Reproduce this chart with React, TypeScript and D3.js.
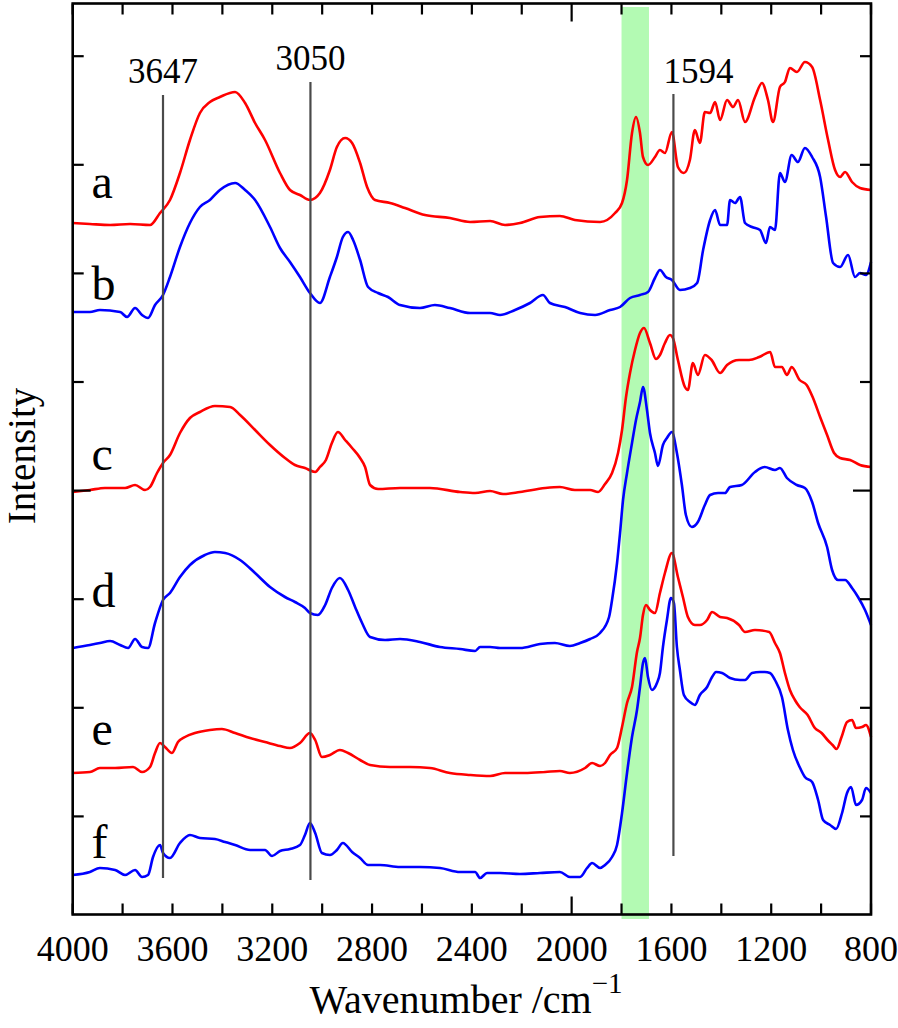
import React from "react";
import * as d3 from "d3";

// Wavenumber (cm^-1) and intensity (arbitrary units; one tick step = 108.6 a.u.)
const curveA: [number, number][] = [
  [4000,702],[3931,701],[3850,700],[3770,701],[3690,700],[3650,712],[3610,725],[3570,752],[3530,785],[3490,812],[3450,823],[3410,828],[3349,833],[3309,822],[3269,802],[3229,785],[3169,752],[3129,735],[3089,730],[3049,725],[3009,732],[2969,755],[2941,778],[2908,787],[2880,782],[2848,762],[2820,738],[2788,725],[2728,722],[2668,717],[2588,710],[2488,707],[2407,703],[2327,704],[2267,700],[2207,702],[2127,708],[2047,709],[1987,705],[1886,703],[1826,712],[1798,722],[1778,745],[1758,792],[1742,808],[1726,792],[1714,768],[1694,760],[1666,768],[1646,775],[1626,772],[1598,793],[1574,758],[1550,752],[1526,765],[1506,795],[1486,782],[1466,813],[1445,812],[1425,823],[1405,805],[1377,825],[1353,818],[1333,825],[1305,803],[1265,828],[1237,842],[1213,825],[1193,803],[1165,838],[1145,843],[1125,857],[1097,853],[1065,863],[1036,858],[1004,825],[972,785],[944,755],[924,748],[904,753],[876,743],[844,737],[800,735]
];
const curveB: [number, number][] = [
  [4000,613],[3931,613],[3891,615],[3810,613],[3782,608],[3750,617],[3722,610],[3698,607],[3670,620],[3638,630],[3610,648],[3570,678],[3530,702],[3490,718],[3450,725],[3410,735],[3349,742],[3309,735],[3269,725],[3209,698],[3169,677],[3129,663],[3089,648],[3049,632],[3009,622],[2969,648],[2941,668],[2917,688],[2896,693],[2876,685],[2848,665],[2816,638],[2776,632],[2736,628],[2688,620],[2608,617],[2548,620],[2488,617],[2407,612],[2327,612],[2287,610],[2227,615],[2167,622],[2115,630],[2087,622],[2027,618],[1966,612],[1906,610],[1846,615],[1806,618],[1766,627],[1726,630],[1694,633],[1666,647],[1646,655],[1622,648],[1598,645],[1566,635],[1526,637],[1497,642],[1473,675],[1445,705],[1425,715],[1405,700],[1377,700],[1365,725],[1345,722],[1325,728],[1305,702],[1277,698],[1245,695],[1221,682],[1205,698],[1185,695],[1165,752],[1145,743],[1118,770],[1093,763],[1065,777],[1036,768],[1004,748],[980,708],[952,662],[924,658],[892,670],[864,648],[844,652],[820,650],[800,663]
];
const curveC: [number, number][] = [
  [4000,433],[3931,435],[3871,437],[3790,437],[3750,440],[3710,435],[3690,438],[3662,452],[3638,462],[3610,470],[3570,492],[3530,507],[3490,513],[3430,519],[3369,518],[3329,510],[3269,495],[3209,480],[3149,467],[3109,460],[3069,457],[3028,453],[3009,458],[2985,465],[2961,482],[2937,493],[2908,485],[2880,477],[2848,467],[2828,458],[2808,440],[2776,436],[2688,437],[2568,437],[2447,433],[2387,432],[2327,434],[2275,431],[2207,433],[2106,437],[2047,438],[1987,435],[1926,435],[1894,433],[1866,441],[1838,452],[1814,472],[1798,495],[1782,528],[1766,552],[1746,575],[1726,592],[1710,597],[1686,582],[1662,566],[1646,570],[1626,582],[1606,590],[1594,587],[1574,565],[1546,538],[1534,535],[1514,562],[1494,550],[1466,570],[1439,565],[1405,552],[1377,560],[1329,565],[1289,565],[1248,568],[1204,573],[1185,558],[1157,558],[1137,550],[1118,558],[1086,545],[1058,540],[1034,528],[1004,508],[976,490],[948,472],[924,467],[884,465],[844,460],[800,458]
];
const curveD: [number, number][] = [
  [4000,277],[3931,280],[3891,282],[3850,284],[3810,280],[3778,277],[3750,286],[3722,278],[3698,277],[3670,302],[3638,325],[3610,332],[3570,348],[3530,360],[3470,370],[3430,373],[3389,372],[3329,365],[3269,352],[3209,338],[3149,328],[3109,323],[3069,317],[3049,312],[3017,310],[2988,320],[2961,337],[2929,347],[2896,335],[2868,318],[2840,302],[2808,288],[2748,285],[2688,286],[2608,283],[2528,278],[2447,276],[2387,274],[2367,278],[2327,278],[2287,277],[2207,277],[2127,281],[2067,282],[2007,279],[1966,282],[1926,286],[1886,292],[1850,308],[1838,325],[1818,362],[1806,392],[1794,425],[1778,452],[1758,482],[1742,505],[1726,523],[1714,538],[1698,515],[1686,492],[1666,472],[1654,459],[1634,480],[1618,487],[1598,493],[1578,472],[1558,440],[1542,410],[1518,398],[1494,403],[1466,420],[1445,430],[1413,432],[1385,432],[1365,438],[1318,440],[1265,453],[1226,458],[1185,455],[1165,457],[1137,447],[1097,440],[1065,437],[1036,423],[1012,402],[976,378],[956,355],[932,345],[904,345],[876,337],[852,328],[824,315],[800,300]
];
const curveE: [number, number][] = [
  [4000,152],[3931,153],[3891,157],[3830,157],[3758,158],[3722,153],[3690,158],[3670,172],[3650,182],[3630,178],[3602,172],[3578,183],[3550,188],[3510,192],[3450,195],[3402,196],[3349,192],[3289,187],[3229,183],[3169,179],[3129,177],[3089,182],[3049,192],[3028,185],[3001,168],[2969,170],[2929,175],[2896,172],[2848,165],[2808,160],[2728,158],[2648,158],[2568,157],[2488,152],[2407,150],[2327,149],[2267,152],[2188,152],[2106,153],[2047,154],[2007,152],[1946,157],[1918,162],[1886,159],[1866,162],[1846,170],[1818,177],[1798,198],[1778,222],[1758,238],[1738,273],[1726,287],[1714,310],[1702,320],[1686,315],[1666,312],[1646,332],[1626,352],[1598,372],[1574,348],[1554,328],[1534,308],[1506,300],[1486,300],[1457,305],[1437,313],[1405,308],[1377,307],[1329,300],[1305,293],[1265,295],[1208,293],[1185,282],[1165,272],[1145,252],[1125,235],[1105,225],[1086,218],[1054,210],[1025,197],[998,192],[974,185],[954,180],[938,176],[918,188],[896,203],[876,205],[860,197],[836,198],[820,200],[800,188]
];
const curveF: [number, number][] = [
  [4000,50],[3931,53],[3891,57],[3830,55],[3790,50],[3750,55],[3722,48],[3698,50],[3678,68],[3650,80],[3638,72],[3610,67],[3570,82],[3530,90],[3490,87],[3430,86],[3389,83],[3349,80],[3289,75],[3229,75],[3201,69],[3169,74],[3129,76],[3089,80],[3069,90],[3049,102],[3028,92],[3001,72],[2969,70],[2941,75],[2917,82],[2880,73],[2848,67],[2816,60],[2768,60],[2688,58],[2608,58],[2528,57],[2447,53],[2387,53],[2367,47],[2339,52],[2287,52],[2207,51],[2127,52],[2047,53],[2007,48],[1966,48],[1938,57],[1918,62],[1886,57],[1866,60],[1838,68],[1818,80],[1798,112],[1778,152],[1758,188],[1738,215],[1726,238],[1714,262],[1706,267],[1694,248],[1678,235],[1658,242],[1646,252],[1634,278],[1618,305],[1602,327],[1590,322],[1578,278],[1566,255],[1550,230],[1526,223],[1506,220],[1486,230],[1457,238],[1437,248],[1421,253],[1397,252],[1365,247],[1325,245],[1305,245],[1277,252],[1245,253],[1226,253],[1205,252],[1185,245],[1157,228],[1133,195],[1113,175],[1086,158],[1065,148],[1036,143],[1012,125],[992,105],[964,100],[940,96],[916,112],[896,132],[880,138],[860,120],[836,125],[820,137],[800,132]
];

const seriesNames = ["a", "b", "c", "d", "e", "f"];
const seriesData = [curveA, curveB, curveC, curveD, curveE, curveF];
const seriesColors = ["#ff0000", "#0000ff", "#ff0000", "#0000ff", "#ff0000", "#0000ff"];
// Label position: wavenumber and intensity of the letter's baseline
const labelW = [3925, 3925, 3925, 3925, 3925, 3925];
const labelV = [727, 625, 455, 318, 180, 67];

const xTickValues = [4000, 3600, 3200, 2800, 2400, 2000, 1600, 1200, 800];
const xMinorTicks = d3.range(4000, 799, -200);
const xMajorTick = 2000;
const yTickStep = 108.6;
const yTickValues = d3.range(1, 9).map((k) => k * yTickStep);
const yMajorTick = 4 * yTickStep;

const markerLines = [
  { pos: 3638, label: "3647", top: 830, bottom: 47, dx: 0, anchor: "middle" },
  { pos: 3047, label: "3050", top: 843, bottom: 45, dx: 0, anchor: "middle" },
  { pos: 1592, label: "1594", top: 831, bottom: 69, dx: -10, anchor: "start" },
];
const markerLabelV = [842, 855, 842];
const band = [1800, 1690];

const W = 898, H = 1028;
const ML = 72.7, MR = 871, MT = 3.5, MB = 914.5;

export default function App() {
  const x = d3.scaleLinear().domain([4000, 800]).range([ML, MR]);
  const y = d3.scaleLinear().domain([10.5, 921.5]).range([MB, MT]);
  const line = d3
    .line<[number, number]>()
    .x((d) => x(d[0]))
    .y((d) => y(d[1]))
    .curve(d3.curveMonotoneX);

  const font = "'Liberation Serif', 'Times New Roman', Times, serif";
  const minorLen = 11, majorLen = 18;

  return (
    <svg
      width={W}
      height={H}
      style={{ position: "absolute", left: 0, top: 0, background: "#fff" }}
      fontFamily={font}
    >
      <rect x={0} y={0} width={W} height={H} fill="#fff" />
      {/* highlight band */}
      <rect
        x={x(band[0])}
        y={7}
        width={x(band[1]) - x(band[0])}
        height={919 - 7}
        fill="#b3fab3"
      />
      {/* spectra */}
      {seriesData.map((s, i) => (
        <path
          key={seriesNames[i]}
          d={line(s) || ""}
          fill="none"
          stroke={seriesColors[i]}
          strokeWidth={2.6}
          strokeLinejoin="round"
        />
      ))}
      {/* marker lines */}
      {markerLines.map((m, i) => (
        <g key={m.label}>
          <line
            x1={x(m.pos)}
            x2={x(m.pos)}
            y1={y(m.top)}
            y2={y(m.bottom)}
            stroke="#4a4a4a"
            strokeWidth={2.2}
          />
          <text
            x={x(m.pos) + m.dx}
            y={y(markerLabelV[i])}
            fontSize={35}
            textAnchor={m.anchor as any}
            fill="#000"
          >
            {m.label}
          </text>
        </g>
      ))}
      {/* series letters */}
      {seriesNames.map((n, i) => (
        <text
          key={"l" + n}
          x={x(labelW[i])}
          y={y(labelV[i])}
          fontSize={48}
          fill="#000"
        >
          {n}
        </text>
      ))}
      {/* ticks */}
      {xMinorTicks.map((t) => {
        const len = t === xMajorTick ? majorLen : minorLen;
        return (
          <g key={"xt" + t} stroke="#000" strokeWidth={2.2}>
            <line x1={x(t)} x2={x(t)} y1={MB} y2={MB - len} />
            <line x1={x(t)} x2={x(t)} y1={MT} y2={MT + len} />
          </g>
        );
      })}
      {yTickValues.map((t) => {
        const len = Math.abs(t - yMajorTick) < 1e-6 ? majorLen : minorLen;
        return (
          <g key={"yt" + t} stroke="#000" strokeWidth={2.2}>
            <line x1={ML} x2={ML + len} y1={y(t)} y2={y(t)} />
            <line x1={MR} x2={MR - len} y1={y(t)} y2={y(t)} />
          </g>
        );
      })}
      {/* frame */}
      <rect
        x={ML}
        y={MT}
        width={MR - ML}
        height={MB - MT}
        fill="none"
        stroke="#000"
        strokeWidth={2.6}
      />
      {/* tick labels */}
      {xTickValues.map((t) => (
        <text
          key={"xl" + t}
          x={x(t)}
          y={961}
          fontSize={36}
          textAnchor="middle"
          fill="#000"
        >
          {t}
        </text>
      ))}
      {/* axis titles */}
      <text x={466} y={1013} fontSize={40} textAnchor="middle" fill="#000">
        Wavenumber /cm
        <tspan fontSize={29} dy={-20}>−1</tspan>
      </text>
      <text
        transform={`translate(35, 456) rotate(-90)`}
        fontSize={39}
        textAnchor="middle"
        fill="#000"
      >
        Intensity
      </text>
    </svg>
  );
}
